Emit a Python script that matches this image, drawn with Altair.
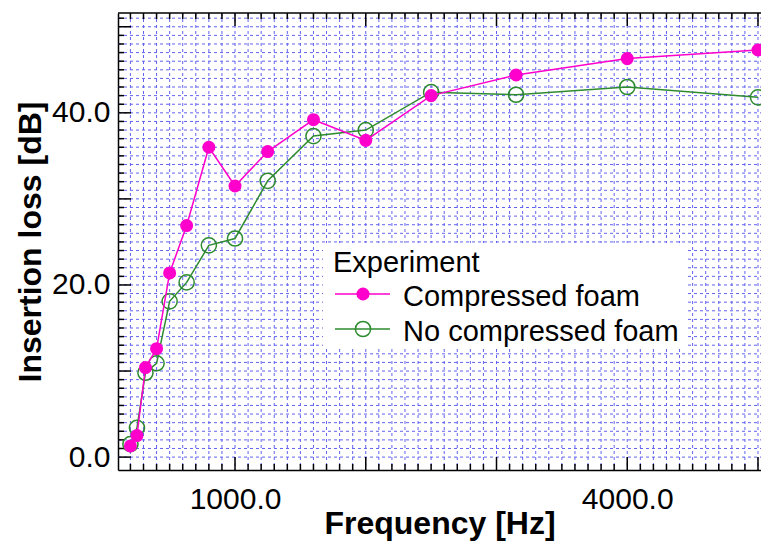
import altair as alt
import pandas as pd

# ---- data ----
freq = [200, 250, 315, 400, 500, 630, 800, 1000, 1250, 1600, 2000, 2500, 3150, 4000, 5000]
compressed = [1.3, 2.5, 10.4, 12.6, 21.4, 26.9, 36.0, 31.5, 35.5, 39.2, 36.8, 42.0, 44.4, 46.3, 47.3]
no_compressed = [1.5, 3.4, 9.8, 10.9, 18.1, 20.3, 24.6, 25.4, 32.1, 37.3, 38.0, 42.4, 42.1, 43.0, 41.8]
series = ["Compressed foam", "No compressed foam"]
legend_title = "Experiment"
colors = ["#ff00cc", "#2e8b2e"]
x_tick_labels = [1000, 4000]
y_tick_labels = [0, 20, 40]
x_minor = [v for v in range(200, 5001, 100) if v % 1000]
x_major = [1000, 2000, 3000, 4000, 5000]
y_minor = [v for v in range(0, 52) if v % 10]
y_major = [0, 10, 20, 30, 40, 50]
x_grid = list(range(200, 5001, 100))
y_grid = list(range(0, 52))

# ---- style ----
W, H = 643, 457
FONT = "Liberation Sans"
GRID = "#6262f0"

xs = alt.Scale(domain=[105, 5023], nice=False, zero=False)
ys = alt.Scale(domain=[-1.5, 51.6], nice=False, zero=False)

X_AXIS = alt.Axis(values=x_tick_labels, format=".1f", ticks=False, grid=False,
                  domain=True, domainColor="black", domainWidth=1.5,
                  labelFont=FONT, labelFontSize=30, labelColor="black", labelPadding=14,
                  labelFlush=False, labelOverlap=False,
                  title="Frequency [Hz]", titleFont=FONT, titleFontSize=32,
                  titleFontWeight="bold", titleColor="black", titlePadding=-6)
Y_AXIS = alt.Axis(values=y_tick_labels, format=".1f", ticks=False, grid=False,
                  domain=True, domainColor="black", domainWidth=1.5,
                  labelFont=FONT, labelFontSize=30, labelColor="black", labelPadding=8,
                  labelFlush=False, labelOverlap=False,
                  title="Insertion loss [dB]", titleFont=FONT, titleFontSize=32,
                  titleFontWeight="bold", titleColor="black", titlePadding=4)


def X(f):
    return alt.X(f"{f}:Q", scale=xs, axis=X_AXIS)


def Y(f):
    return alt.Y(f"{f}:Q", scale=ys, axis=Y_AXIS)


layers = []

# grid
layers.append(alt.Chart(pd.DataFrame({"v": x_grid})).mark_rule(
    color=GRID, strokeDash=[3, 3], strokeWidth=1).encode(
    x=X("v"), y=alt.value(0), y2=alt.value(H)))
layers.append(alt.Chart(pd.DataFrame({"v": y_grid})).mark_rule(
    color=GRID, strokeDash=[3, 3], strokeWidth=1).encode(
    y=Y("v"), x=alt.value(0), x2=alt.value(W)))

# top frame line
layers.append(alt.Chart(pd.DataFrame({"v": [0]})).mark_rule(
    color="black", strokeWidth=1.5).encode(
    x=alt.value(0), x2=alt.value(W), y=alt.value(0)))

# inward ticks
for vals, ln in [(x_minor, 6), (x_major, 13)]:
    d = pd.DataFrame({"v": vals})
    layers.append(alt.Chart(d).mark_rule(color="black", strokeWidth=1.5).encode(
        x=X("v"), y=alt.value(H), y2=alt.value(H - ln)))
    layers.append(alt.Chart(d).mark_rule(color="black", strokeWidth=1.5).encode(
        x=X("v"), y=alt.value(0), y2=alt.value(ln)))
for vals, ln in [(y_minor, 6), (y_major, 13)]:
    d = pd.DataFrame({"v": vals})
    layers.append(alt.Chart(d).mark_rule(color="black", strokeWidth=1.5).encode(
        y=Y("v"), x=alt.value(0), x2=alt.value(ln)))

# data series (green first, pink on top)
series_vals = [compressed, no_compressed]
for i in [1, 0]:
    df = pd.DataFrame({"freq": freq, "loss": series_vals[i]})
    layers.append(alt.Chart(df).mark_line(color=colors[i], strokeWidth=1.5).encode(
        x=X("freq"), y=Y("loss")))
    if i == 0:
        pm = alt.Chart(df).mark_point(shape="circle", filled=True, color=colors[i],
                                      size=170, opacity=1)
    else:
        pm = alt.Chart(df).mark_point(shape="circle", filled=False, color=colors[i],
                                      size=230, strokeWidth=1.5, opacity=1)
    layers.append(pm.encode(x=X("freq"), y=Y("loss")))

# legend (drawn inside the plot)
one = pd.DataFrame({"t": [legend_title]})
layers.append(alt.Chart(one).mark_rect(color="white").encode(
    x=alt.value(205), x2=alt.value(570), y=alt.value(230), y2=alt.value(333)))
layers.append(alt.Chart(one).mark_text(align="left", baseline="alphabetic", font=FONT,
                                       fontSize=29, color="black").encode(
    x=alt.value(215), y=alt.value(259), text="t:N"))
row_sym = [281, 316]
row_lab = [293, 328]
for i in range(2):
    d = pd.DataFrame({"t": [series[i]]})
    layers.append(alt.Chart(d).mark_rule(color=colors[i], strokeWidth=1.5).encode(
        x=alt.value(217), x2=alt.value(272), y=alt.value(row_sym[i])))
    if i == 0:
        pm = alt.Chart(d).mark_point(shape="circle", filled=True, color=colors[i],
                                     size=170, opacity=1)
    else:
        pm = alt.Chart(d).mark_point(shape="circle", filled=False, color=colors[i],
                                     size=230, strokeWidth=1.5, opacity=1)
    layers.append(pm.encode(x=alt.value(245), y=alt.value(row_sym[i])))
    layers.append(alt.Chart(d).mark_text(align="left", baseline="alphabetic", font=FONT,
                                         fontSize=29, color="black").encode(
        x=alt.value(285), y=alt.value(row_lab[i]), text="t:N"))

chart = alt.layer(*layers).properties(
    width=W, height=H,
    padding={"left": 110, "top": 5, "right": 0, "bottom": 71},
    autosize="none", background="white",
).configure_view(stroke="transparent", strokeWidth=0)

chart.save("out.html", embed_options={"renderer": "svg", "actions": False})
